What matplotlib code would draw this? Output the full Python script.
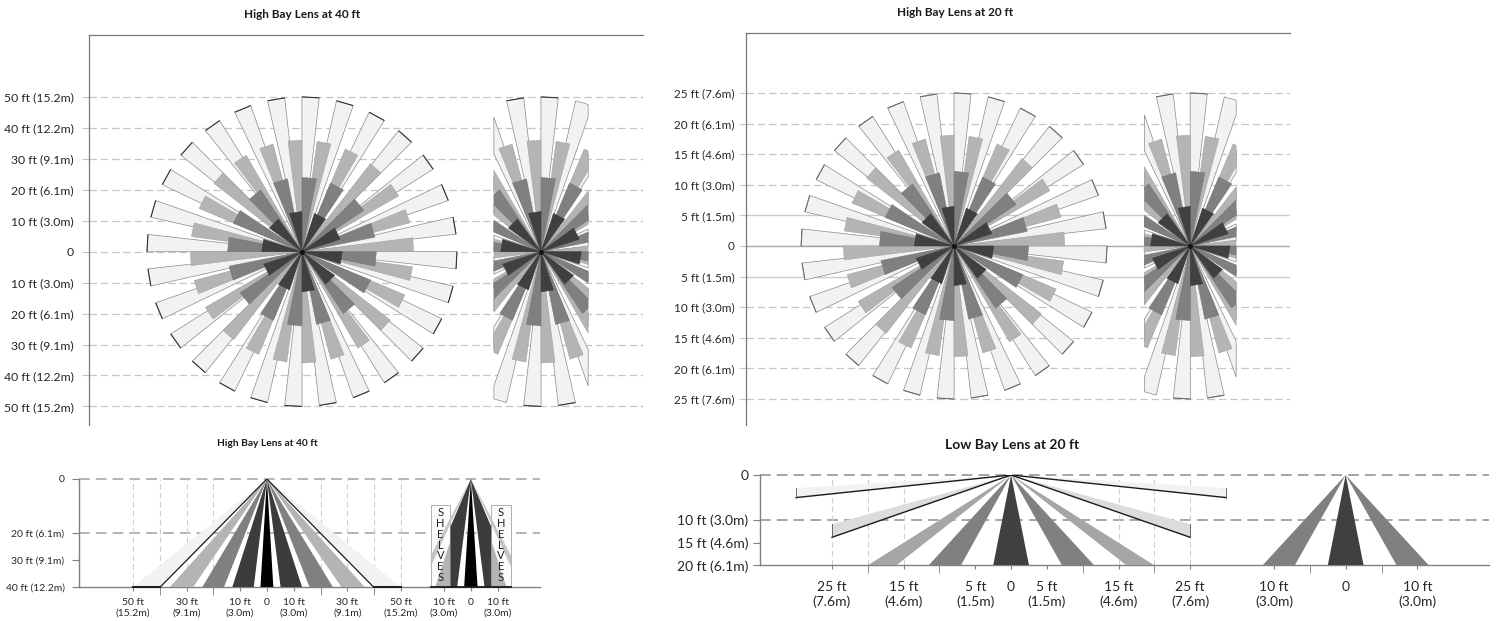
import matplotlib
matplotlib.use('Agg')
from matplotlib import pyplot as plt
from matplotlib.patches import Rectangle
import numpy as np

plt.rcParams['font.family'] = ['Lato', 'DejaVu Sans']

W, H = 1497, 621

LIGHT, MID, GREY, DARK = '#f2f2f2', '#b4b4b4', '#808080', '#404040'

# wedge start angles (deg) for each ring
light_starts = [83.6, 70.7, 57.9, 45, 32.2, 19.3, 6.5, -6.4, -19.3, -32.1, -45, -57.9, -70.7, -83.6,
                -96.4, -109.3, -122.1, -135, -147.9, -160.7, -173.6, -186.4, -199.3, -212.1, -225,
                -237.9, -250.7, -263.6]
mid_starts = [0, 15, 30, 45, 60, 75, 90, 105, 120, 135, 150, 165, 180, 195, 210, 225, 240, 255, 270,
              285, 300, 315, 330, 345]
grey_starts = [78.75, 56.25, 33.75, 11.25, -11.25, -33.75, -56.25, -78.75, -101.25, -123.75, -146.25,
               -168.75, -191.25, -213.75, -236.25, -258.75]
dark_starts = [90, 54, 18, -18, -54, -90, -126, -162, -198, -234]
wedge_widths = [6.43, 7.2, 11.25, 18]

# ring reach in ft
radii_40 = [50, 36, 24, 13]
radii_20 = [25, 18.1, 12.2, 6.5]

top40_ticks = [50, 40, 30, 20, 10, 0, -10, -20, -30, -40, -50]
top40_labels = ['50 ft (15.2m)', '40 ft (12.2m)', '30 ft (9.1m)', '20 ft (6.1m)', '10 ft (3.0m)', '0',
                '10 ft (3.0m)', '20 ft (6.1m)', '30 ft (9.1m)', '40 ft (12.2m)', '50 ft (15.2m)']
top20_ticks = [25, 20, 15, 10, 5, 0, -5, -10, -15, -20, -25]
top20_labels = ['25 ft (7.6m)', '20 ft (6.1m)', '15 ft (4.6m)', '10 ft (3.0m)', '5 ft (1.5m)', '0',
                '5 ft (1.5m)', '10 ft (3.0m)', '15 ft (4.6m)', '20 ft (6.1m)', '25 ft (7.6m)']

# side views: base positions (ft) of each beam
side40_beams = [(-2.4, 2.4, '#000000'), (-12.9, -4.9, '#3c3c3c'), (5.1, 13.1, '#3c3c3c'),
                (-24.1, -16, GREY), (15.9, 24.6, GREY), (-36.2, -27.5, MID), (27.8, 36.5, MID)]
side40_light = [(-50, -39.8), (50, 39.8)]
# last value is how far from the centre the beam may reach before a shelf stops it
side40_shelf_beams = [(-21.1, -18.4, '#c4c4c4', 15), (18.4, 21.1, '#c4c4c4', 15), (-13.3, -7.5, MID, 15),
                      (7.5, 13.3, MID, 15), (-17.2, -5.1, '#3c3c3c', 7.6), (5.1, 17.2, '#3c3c3c', 7.6),
                      (-2.5, 2.5, '#000000', 15)]
side40_xticks = [-50, -30, -10, 0, 10, 30, 50, 66.1, 76.1, 86.1]
side40_xlabels = ['50 ft\n(15.2m)', '30 ft\n(9.1m)', '10 ft\n(3.0m)', '0', '10 ft\n(3.0m)', '30 ft\n(9.1m)',
                  '50 ft\n(15.2m)', '10 ft\n(3.0m)', '0', '10 ft\n(3.0m)']
side40_yticks = [0, 20, 30, 40]
side40_ylabels = ['0', '20 ft (6.1m)', '30 ft (9.1m)', '40 ft (12.2m)']

low_beams = [(-2.5, 2.5, DARK), (-11.5, -7, GREY), (7.1, 11.6, GREY), (-20, -16, '#a6a6a6'), (16.1, 20, '#a6a6a6')]
low_shelf_beams = [(-2.5, 2.5, DARK), (-11.6, -7.1, GREY), (7.1, 11.6, GREY)]
# beams cut by their end x: (end x, depth upper, depth lower, colour)
low_cut_beams = [(-25, 10.9, 13.8, '#dcdcdc'), (25, 10.9, 13.8, '#dcdcdc'),
                 (-30, 2.9, 5.0, LIGHT), (30, 2.9, 5.0, LIGHT)]
low_xticks = [-25, -15, -5, 0, 5, 15, 25, 36.7, 46.7, 56.7]
low_xlabels = ['25 ft\n(7.6m)', '15 ft\n(4.6m)', '5 ft\n(1.5m)', '0', '5 ft\n(1.5m)', '15 ft\n(4.6m)',
               '25 ft\n(7.6m)', '10 ft\n(3.0m)', '0', '10 ft\n(3.0m)']
low_yticks = [0, 10, 15, 20]
low_ylabels = ['0', '10 ft (3.0m)', '15 ft (4.6m)', '20 ft (6.1m)']


def panel(x0, y0, x1, y1):
    # box given in image pixels, y going down
    return fig.add_axes([x0 / W, 1 - y1 / H, (x1 - x0) / W, (y1 - y0) / H])


def clip_x(xs, ys, lo, hi):
    # cut a polygon at two vertical lines
    pts = list(zip(xs, ys))
    for limit, sign in ((lo, 1), (hi, -1)):
        out = []
        for i in range(len(pts)):
            a, b = pts[i], pts[(i + 1) % len(pts)]
            ina, inb = sign * (a[0] - limit) >= 0, sign * (b[0] - limit) >= 0
            if ina:
                out.append(a)
            if ina != inb:
                t = (limit - a[0]) / (b[0] - a[0])
                out.append((limit, a[1] + t * (b[1] - a[1])))
        pts = out
    return [p[0] for p in pts], [p[1] for p in pts]


def fan(ax, cx, radii, tip, clip=None):
    rings = [(light_starts, LIGHT, '#8a8a8a', 0.5), (mid_starts, MID, '#9a9a9a', 0.3),
             (grey_starts, GREY, '#707070', 0.3), (dark_starts, DARK, '#383838', 0.3)]
    for n, ((starts, color, edge, lw), r, width) in enumerate(zip(rings, radii, wedge_widths)):
        for a in starts:
            t = np.radians([a, a + width])
            xs = [cx, cx + r * np.cos(t[0]), cx + r * np.cos(t[1])]
            ys = [0, r * np.sin(t[0]), r * np.sin(t[1])]
            tipx, tipy = xs[1:], ys[1:]
            if clip is not None:
                xs, ys = clip_x(xs, ys, cx - clip, cx + clip)
            if len(xs) > 2:
                ax.fill(xs, ys, facecolor=color, edgecolor=edge, linewidth=lw, zorder=3)
            # the far ends of the long wedges are drawn darker
            if n == 0 and (clip is None or (abs(tipx[0] - cx) < clip and abs(tipx[1] - cx) < clip)):
                ax.plot(tipx, tipy, color=tip, lw=0.8, zorder=4, solid_capstyle='butt')
    ax.plot([cx], [0], marker='o', ms=2.5, color='#111111', zorder=5)


def style_top(ax, ticks, labels, pad, size, solid=()):
    for s in ('right', 'bottom'):
        ax.spines[s].set_visible(False)
    for s in ('left', 'top'):
        ax.spines[s].set_color('#777777')
        ax.spines[s].set_linewidth(0.9)
    ax.set_xticks([])
    ax.set_yticks(ticks)
    ax.set_yticklabels(labels, fontsize=size, color='#262626')
    ax.tick_params(axis='y', length=5, color='#c6c6c6', pad=pad)
    for t in ticks:
        if t in solid:
            ax.axhline(t, color='#cccccc' if t else '#a8a8a8', lw=1.0, zorder=1)
        else:
            ax.axhline(t, color='#c6c6c6', lw=0.9, dashes=(6, 3), zorder=1)


def beam(ax, cx, depth, lo, hi, color, clip=None):
    xs, ys = [cx, cx + lo, cx + hi], [0, depth, depth]
    if clip is not None:
        xs, ys = clip_x(xs, ys, cx - clip, cx + clip)
    ax.fill(xs, ys, facecolor=color, edgecolor='none', zorder=3)


def style_side(ax, xticks, xlabels, minor, yticks, ylabels, size, dark_lines, dark_color, gridx, xpad, ypad):
    for s in ('right', 'top'):
        ax.spines[s].set_visible(False)
    for s in ('left', 'bottom'):
        ax.spines[s].set_color('#808080')
        ax.spines[s].set_linewidth(1.0)
    ax.set_xticks(xticks)
    ax.set_xticklabels(xlabels, fontsize=size, color='#262626', linespacing=1.25)
    ax.set_xticks(minor, minor=True)
    ax.set_yticks(yticks)
    ax.set_yticklabels(ylabels, fontsize=size, color='#262626')
    ax.tick_params(axis='x', which='major', length=3, color='#808080', pad=xpad)
    ax.tick_params(axis='x', which='minor', length=6, color='#808080')
    ax.tick_params(axis='y', length=5, color='#808080', pad=ypad)
    for y in dark_lines:
        ax.axhline(y, color=dark_color, lw=1.1, dashes=(7, 4), zorder=1, clip_on=False)
    for x in gridx:
        ax.axvline(x, color='#cfcfcf', lw=0.8, dashes=(5, 3), zorder=1)


fig = plt.figure(figsize=(W / 100, H / 100), dpi=100)

# top left, high bay 40 ft
ax = panel(89, 35, 643, 425)
ax.set_xlim(-68.7, 110)
ax.set_ylim(-56, 70)
style_top(ax, top40_ticks, top40_labels, 6, 8.8)
fan(ax, 0, radii_40, '#333333')
fan(ax, 77.1, radii_40, '#333333', clip=15.2)
fig.text(302 / W, 1 - 15 / H, 'High Bay Lens at 40 ft', ha='center', va='center', fontsize=8.5,
         fontweight='bold', color='#1a1a1a')

# top right, high bay 20 ft
ax = panel(746, 33, 1290, 425)
ax.set_xlim(-34, 54.9)
ax.set_ylim(-29.25, 34.8)
style_top(ax, top20_ticks, top20_labels, 3, 8.5, solid=(5, 0, -5))
fan(ax, 0, radii_20, '#6a6a6a')
fan(ax, 38.6, radii_20, '#6a6a6a', clip=7.5)
fig.text(955 / W, 1 - 12 / H, 'High Bay Lens at 20 ft', ha='center', va='center', fontsize=8.5,
         fontweight='bold', color='#1a1a1a')

# bottom left, side view
ax = panel(78.5, 479, 540, 587)
ax.set_xlim(-70.3, 101.9)
ax.set_ylim(40, 0)
style_side(ax, side40_xticks, side40_xlabels, [-40, -20, 20, 40], side40_yticks, side40_ylabels, 7.5,
           [0, 20], '#a0a0a0', [-50, -40, -30, -20, 20, 30, 40, 50], 5, 5)
for lo, hi in side40_light:
    beam(ax, 0, 40, lo, hi, LIGHT)
    ax.plot([0, hi], [0, 40], color='#1a1a1a', lw=0.9, zorder=4)
    ax.plot([lo, hi], [40, 40], color='#1a1a1a', lw=1.4, zorder=4, clip_on=False)
for lo, hi, c in side40_beams:
    beam(ax, 0, 40, lo, hi, c)
shelf_cx = 76.1
for lo, hi in ((-15, -7.6), (7.6, 15)):
    ax.add_patch(Rectangle((shelf_cx + lo, 9.5), hi - lo, 30.5, facecolor='#fbfbfb', edgecolor='#b0b0b0',
                           lw=0.7, zorder=2))
for lo, hi, c, reach in side40_shelf_beams:
    beam(ax, shelf_cx, 40, lo, hi, c, clip=reach)
ax.plot([shelf_cx - 15, shelf_cx + 15], [40, 40], color='#1a1a1a', lw=1.3, zorder=4, clip_on=False)
for x in (shelf_cx - 11.3, shelf_cx + 11.3):
    ax.text(x, 24.5, 'S\nH\nE\nL\nV\nE\nS', ha='center', va='center', fontsize=8, color='#222222',
            linespacing=0.98, zorder=5)
fig.text(267 / W, 1 - 443 / H, 'High Bay Lens at 40 ft', ha='center', va='center', fontsize=7.3,
         fontweight='bold', color='#1a1a1a')

# bottom right, low bay
ax = panel(759.6, 475, 1489, 565.3)
ax.set_xlim(-35.1, 66.7)
ax.set_ylim(20, 0)
style_side(ax, low_xticks, low_xlabels, [-20, -10, 10, 20, 41.7, 51.7], low_yticks, low_ylabels, 10,
           [0, 10], '#8c8c8c', [-25, -20, -15, 15, 20, 25], 8, 3)
for end, upper, lower, c in low_cut_beams:
    ax.fill([0, end, end], [0, upper, lower], facecolor=c, edgecolor='none', zorder=3)
    ax.plot([0, end], [0, lower], color='#1a1a1a', lw=1.0, zorder=4)
    ax.plot([end, end], [upper, lower], color='#555555', lw=0.6, zorder=4)
for lo, hi, c in low_beams:
    beam(ax, 0, 20, lo, hi, c)
for lo, hi, c in low_shelf_beams:
    beam(ax, 46.7, 20, lo, hi, c)
fig.text(1012 / W, 1 - 445 / H, 'Low Bay Lens at 20 ft', ha='center', va='center', fontsize=10,
         fontweight='bold', color='#1a1a1a')

fig.savefig('out.png', dpi=100, facecolor='white')
